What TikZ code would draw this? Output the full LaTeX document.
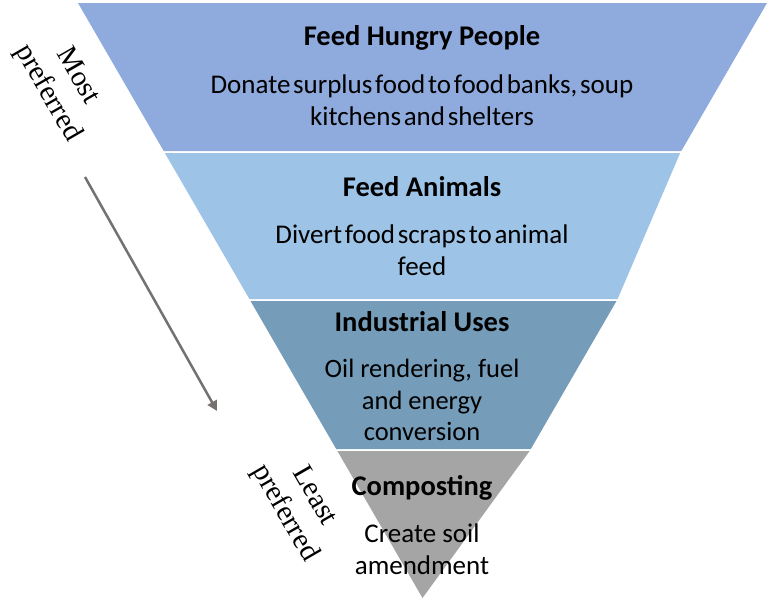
\documentclass[tikz,border=0pt]{standalone}
\usepackage{fontspec}
\setmainfont{Carlito}
\newfontfamily\labelserif{Liberation Serif}
\usetikzlibrary{arrows.meta}
\definecolor{bandA}{HTML}{8FAADC}
\definecolor{bandB}{HTML}{9DC3E6}
\definecolor{bandC}{HTML}{759CB9}
\definecolor{bandD}{HTML}{A5A5A5}
\definecolor{arrowgray}{HTML}{767171}
\newcommand\tightsp{\spaceskip=0.1em\relax}
\begin{document}
\begin{tikzpicture}[x=1pt,y=-1pt,
  titletext/.style={font=\fontsize{28.5}{31}\selectfont\bfseries, inner sep=0pt, anchor=center},
  bodytext/.style={font=\fontsize{27}{31.5}\selectfont, align=center, inner sep=0pt},
  sidetext/.style={font=\labelserif\fontsize{29}{34}\selectfont, align=center, rotate=-60, inner sep=0pt},
  arrowline/.style={draw=arrowgray, line width=2.5pt, -{Triangle[length=10pt,width=10pt]}}]
\useasboundingbox (0,0) rectangle (767,600);
% bands
\fill[bandA] (78,3) -- (767,3) -- (681.3,151) -- (163.7,151) -- cycle;
\fill[bandB] (164.85,153) -- (680.15,153) -- (617.6,299) -- (249.4,299) -- cycle;
\fill[bandC] (250.5,301) -- (616.5,301) -- (530.8,449) -- (336.2,449) -- cycle;
\fill[bandD] (337.4,451) -- (529.6,451) -- (422.5,598) -- cycle;
% texts
\node[titletext] (t1) at (422,38) {Feed Hungry People};
\node[bodytext] (b1) at (422,100) {\tightsp Donate surplus food to food banks, soup\\\tightsp kitchens and shelters};
\node[titletext] (t2) at (422,187) {Feed Animals};
\node[bodytext] (b2) at (422,250) {\tightsp Divert food scraps to animal\\feed};
\node[titletext] (t3) at (422,322) {Industrial Uses};
\node[bodytext, font=\fontsize{26.5}{31.5}\selectfont] (b3) at (422,400) {Oil rendering, fuel\\and energy\\conversion};
\node[titletext] (t4) at (422,488) {Composting};
\node[bodytext] (b4) at (422,549) {Create soil\\amendment};
% side labels
\node[sidetext] (most) at (62,85) {Most\\preferred};
\node[sidetext] (least) at (299,505) {Least\\preferred};
\coordinate (arrS) at (85,177);
\coordinate (arrE) at (217,411);
\draw[arrowline] (arrS) -- (arrE);
\end{tikzpicture}
\end{document}
